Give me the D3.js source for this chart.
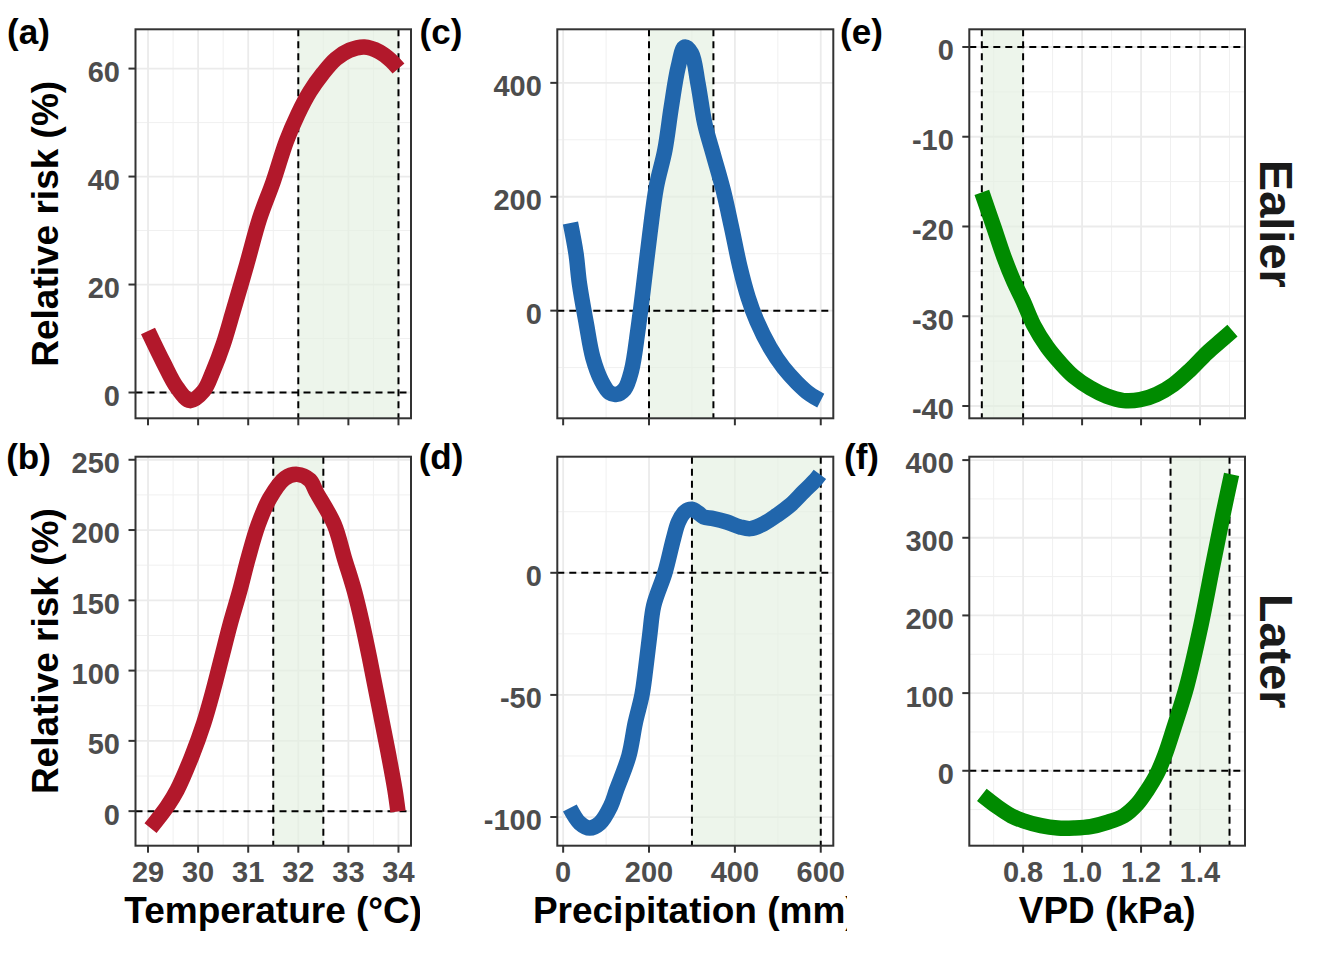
<!DOCTYPE html>
<html>
<head>
<meta charset="utf-8">
<script src="https://cdn.jsdelivr.net/npm/d3@7/dist/d3.min.js"></script>
<style>
  body { margin: 0; background: #fff; }
  svg { display: block; font-family: "Liberation Sans", Arial, sans-serif; font-weight: bold; }
</style>
</head>
<body>
<svg id="chart" width="1344" height="960"></svg>
<script>
// ---- data ----
// (a) temperature, earlier
var tempEarlyX = [29.0, 29.31, 29.58, 29.84, 30.11, 30.3, 30.5, 30.7, 30.97, 31.23, 31.5, 31.76, 31.99, 32.23, 32.49, 32.75, 33.02, 33.32, 33.62, 33.85, 34.0];
var tempEarlyY = [11.4, 5.5, 0.9, -1.5, 0.3, 4.0, 8.9, 15.1, 23.7, 32.3, 39.1, 46.5, 51.5, 55.7, 59.1, 61.8, 63.4, 64.0, 63.1, 61.5, 60.0];
// (b) temperature, later
var tempLaterX = [29.05, 29.38, 29.58, 29.87, 30.11, 30.3, 30.47, 30.64, 30.83, 31.0, 31.2, 31.43, 31.73, 31.98, 32.23, 32.36, 32.72, 32.92, 33.12, 33.28, 33.42, 33.55, 33.68, 33.81, 33.93, 33.99];
var tempLaterY = [-12, 3.3, 15, 38.7, 62.3, 85.8, 109.4, 133, 156.6, 180, 203.8, 222.6, 236.8, 239.6, 235.6, 227, 203.8, 180, 156.6, 133, 109.4, 85.8, 62.3, 38.7, 15, -0.2];
// (c) precipitation, earlier
var precEarlyX = [17, 30, 38, 54, 69, 89, 108, 124, 143, 159, 174, 186, 202, 217, 237, 252, 268, 283, 299, 314, 330, 349, 373, 392, 412, 431, 451, 482, 513, 544, 575, 600];
var precEarlyY = [154, 100, 47, -23, -82, -123, -144, -147, -138, -106, -35, 35, 135, 217, 282, 358, 428, 463, 452, 399, 328, 276, 211, 147, 76, 23, -18, -65, -100, -126, -147, -158];
// (d) precipitation, later
var precLaterX = [15.6, 38.9, 62, 85.6, 110.5, 124.5, 153, 168, 183.6, 192, 202, 211, 237, 257, 268.5, 284, 300, 315, 327, 350, 381, 412, 436, 467, 498, 529, 560, 587, 598];
var precLaterY = [-96.3, -102.5, -104.5, -102.5, -95.6, -88.8, -75, -61.4, -50, -39.5, -25, -13.4, 0, 14, 20.8, 25, 26, 24.5, 22.9, 22.2, 20.8, 18.8, 18.1, 20.1, 23.6, 27.7, 33.2, 37.9, 40.3];
// (e) VPD, earlier
var vpdEarlyX = [0.66, 0.701, 0.735, 0.768, 0.8, 0.836, 0.881, 0.926, 0.971, 1.028, 1.084, 1.141, 1.197, 1.253, 1.31, 1.366, 1.423, 1.468, 1.51];
var vpdEarlyY = [-16.2, -20.1, -23.4, -26.1, -28.3, -31, -33.4, -35.2, -36.7, -38, -38.9, -39.4, -39.3, -38.7, -37.6, -36, -34.1, -32.8, -31.6];
// (f) VPD, later
var vpdLaterX = [0.66, 0.715, 0.76, 0.8, 0.861, 0.917, 0.973, 1.029, 1.085, 1.142, 1.187, 1.22, 1.254, 1.282, 1.31, 1.355, 1.4, 1.445, 1.479, 1.507];
var vpdLaterY = [-31, -47, -58, -64.3, -70.7, -73.7, -73.7, -72, -66.5, -57.9, -42.9, -25.7, -4, 21.4, 53.6, 109, 182, 268, 332, 381.6];

// shaded ranges (start, end) per panel
var shadeA = [32, 34], shadeB = [31.5, 32.5];
var shadeC = [200, 350], shadeD = [300, 600];
var shadeE = [0.66, 0.8], shadeF = [1.3, 1.5];

// tick values
var tempTicks = [29, 30, 31, 32, 33, 34];
var precTicks = [0, 200, 400, 600];
var vpdTicks = [0.8, 1.0, 1.2, 1.4];
var yTicksA = [0, 20, 40, 60], yTicksB = [0, 50, 100, 150, 200, 250];
var yTicksC = [0, 200, 400], yTicksD = [-100, -50, 0];
var yTicksE = [-40, -30, -20, -10, 0], yTicksF = [0, 100, 200, 300, 400];

var tags = ['(a)', '(b)', '(c)', '(d)', '(e)', '(f)'];
var rowLabels = ['Ealier', 'Later'];
var xTitles = ['Temperature (°C)', 'Precipitation (mm)', 'VPD (kPa)'];
var yTitle = 'Relative risk (%)';
var colColors = ['#B2182B', '#2166AC', '#008B00'];

// ---- layout ----
var cols = [{ left: 135.5, right: 411 }, { left: 557.3, right: 833.3 }, { left: 969.3, right: 1245 }];
var rows = [{ top: 29.3, bottom: 418.3 }, { top: 456.7, bottom: 845.7 }];

var svg = d3.select('#chart');

function expand(ext) {
    var r = ext[1] - ext[0];
    return [ext[0] - 0.05 * r, ext[1] + 0.05 * r];
}
function zip(xs, ys) {
    return xs.map(function (v, i) { return { x: v, y: ys[i] }; });
}
function minors(ticks, dom) {
    var step = ticks[1] - ticks[0], out = [];
    for (var i = -1; i < ticks.length; i++) {
        var m = ticks[0] + (i + 0.5) * step;
        if (m > dom[0] && m < dom[1]) out.push(m);
    }
    return out;
}
// R prints a plain hyphen for negatives
function plain(v) { return String(v); }

var columns = [
    { xs: [tempEarlyX, tempLaterX], ys: [tempEarlyY, tempLaterY], shades: [shadeA, shadeB],
      xTicks: tempTicks, yTicks: [yTicksA, yTicksB], fmt: plain },
    { xs: [precEarlyX, precLaterX], ys: [precEarlyY, precLaterY], shades: [shadeC, shadeD],
      xTicks: precTicks, yTicks: [yTicksC, yTicksD], fmt: plain },
    { xs: [vpdEarlyX, vpdLaterX], ys: [vpdEarlyY, vpdLaterY], shades: [shadeE, shadeF],
      xTicks: vpdTicks, yTicks: [yTicksE, yTicksF], fmt: d3.format('.1f') }
];

var defs = svg.append('defs');

columns.forEach(function (col, ci) {
    var cpos = cols[ci];
    var xDom = expand(d3.extent(col.xs[0].concat(col.xs[1])));
    var x = d3.scaleLinear().domain(xDom).range([cpos.left, cpos.right]);

    rows.forEach(function (rpos, ri) {
        var xsv = col.xs[ri], ysv = col.ys[ri];
        var yDom = expand(d3.extent(ysv.concat([0])));
        var y = d3.scaleLinear().domain(yDom).range([rpos.bottom, rpos.top]);
        var g = svg.append('g');
        var pw = cpos.right - cpos.left, ph = rpos.bottom - rpos.top;
        var clipId = 'clip' + ci + ri;
        defs.append('clipPath').attr('id', clipId).append('rect')
            .attr('x', cpos.left).attr('y', rpos.top).attr('width', pw).attr('height', ph);

        var inner = g.append('g').attr('clip-path', 'url(#' + clipId + ')');
        inner.append('rect').attr('x', cpos.left).attr('y', rpos.top)
            .attr('width', pw).attr('height', ph).attr('fill', '#fff');

        // grid
        minors(col.xTicks, xDom).forEach(function (v) {
            inner.append('line').attr('x1', x(v)).attr('x2', x(v)).attr('y1', rpos.top).attr('y2', rpos.bottom)
                .attr('stroke', '#f0f0f0').attr('stroke-width', 1);
        });
        minors(col.yTicks[ri], yDom).forEach(function (v) {
            inner.append('line').attr('y1', y(v)).attr('y2', y(v)).attr('x1', cpos.left).attr('x2', cpos.right)
                .attr('stroke', '#f0f0f0').attr('stroke-width', 1);
        });
        col.xTicks.forEach(function (v) {
            inner.append('line').attr('x1', x(v)).attr('x2', x(v)).attr('y1', rpos.top).attr('y2', rpos.bottom)
                .attr('stroke', '#ebebeb').attr('stroke-width', 1.8);
        });
        col.yTicks[ri].forEach(function (v) {
            inner.append('line').attr('y1', y(v)).attr('y2', y(v)).attr('x1', cpos.left).attr('x2', cpos.right)
                .attr('stroke', '#ebebeb').attr('stroke-width', 1.8);
        });

        // shaded optimum range
        var sh = col.shades[ri];
        inner.append('rect').attr('x', x(sh[0])).attr('y', rpos.top)
            .attr('width', x(sh[1]) - x(sh[0])).attr('height', ph)
            .attr('fill', '#e3f0e1').attr('opacity', 0.65);

        // dashed reference lines
        inner.append('line').attr('x1', cpos.left).attr('x2', cpos.right).attr('y1', y(0)).attr('y2', y(0))
            .attr('stroke', '#000').attr('stroke-width', 2).attr('stroke-dasharray', '7,5');
        sh.forEach(function (v) {
            inner.append('line').attr('x1', x(v)).attr('x2', x(v)).attr('y1', rpos.top).attr('y2', rpos.bottom)
                .attr('stroke', '#000').attr('stroke-width', 2).attr('stroke-dasharray', '7,5');
        });

        // curve
        var line = d3.line()
            .x(function (d) { return x(d.x); })
            .y(function (d) { return y(d.y); })
            .curve(d3.curveCatmullRom.alpha(0.5));
        inner.append('path').datum(zip(xsv, ysv))
            .attr('fill', 'none')
            .attr('stroke', colColors[ci])
            .attr('stroke-width', 15.5)
            .attr('stroke-linejoin', 'round')
            .attr('stroke-linecap', 'butt')
            .attr('d', line);

        // border
        g.append('rect').attr('x', cpos.left).attr('y', rpos.top).attr('width', pw).attr('height', ph)
            .attr('fill', 'none').attr('stroke', '#333').attr('stroke-width', 2);

        // y axis
        col.yTicks[ri].forEach(function (v) {
            g.append('line').attr('x1', cpos.left - 7).attr('x2', cpos.left).attr('y1', y(v)).attr('y2', y(v))
                .attr('stroke', '#333').attr('stroke-width', 2);
            g.append('text').attr('x', cpos.left - 15.5).attr('y', y(v)).attr('dy', 13.4)
                .attr('text-anchor', 'end').attr('font-size', 29).attr('fill', '#4d4d4d')
                .text(plain(v));
        });
        // x axis ticks
        col.xTicks.forEach(function (v) {
            g.append('line').attr('x1', x(v)).attr('x2', x(v)).attr('y1', rpos.bottom).attr('y2', rpos.bottom + 7)
                .attr('stroke', '#333').attr('stroke-width', 2);
            if (ri === 1) {
                g.append('text').attr('x', x(v)).attr('y', 882)
                    .attr('text-anchor', 'middle').attr('font-size', 29).attr('fill', '#4d4d4d')
                    .text(col.fmt(v));
            }
        });

        // panel tag
        var tagX = [28.5, 441, 861.5][ci];
        svg.append('text').attr('x', tagX).attr('y', ri === 0 ? 44 : 469)
            .attr('text-anchor', 'middle').attr('font-size', 35).attr('fill', '#000')
            .text(tags[ci * 2 + ri]);

        if (ci === 0) {
            svg.append('text')
                .attr('transform', 'translate(58,' + ((rpos.top + rpos.bottom) / 2) + ') rotate(-90)')
                .attr('text-anchor', 'middle').attr('font-size', 37).attr('fill', '#000')
                .text(yTitle);
        }
        if (ci === 2) {
            svg.append('text')
                .attr('transform', 'translate(1260,' + ((rpos.top + rpos.bottom) / 2) + ') rotate(90)')
                .attr('text-anchor', 'middle').attr('font-size', 47).attr('fill', '#1a1a1a')
                .text(rowLabels[ri]);
        }
    });

    // x title (the middle one is cut off by its column, as in the figure)
    var colClip = 'colclip' + ci;
    defs.append('clipPath').attr('id', colClip).append('rect')
        .attr('x', [0, 420, 847][ci]).attr('y', 880).attr('width', [420, 427, 497][ci]).attr('height', 80);
    svg.append('text').attr('clip-path', 'url(#' + colClip + ')')
        .attr('x', (cpos.left + cpos.right) / 2).attr('y', 923)
        .attr('text-anchor', 'middle').attr('font-size', 37).attr('fill', '#000')
        .text(xTitles[ci]);
});
</script>
</body>
</html>
